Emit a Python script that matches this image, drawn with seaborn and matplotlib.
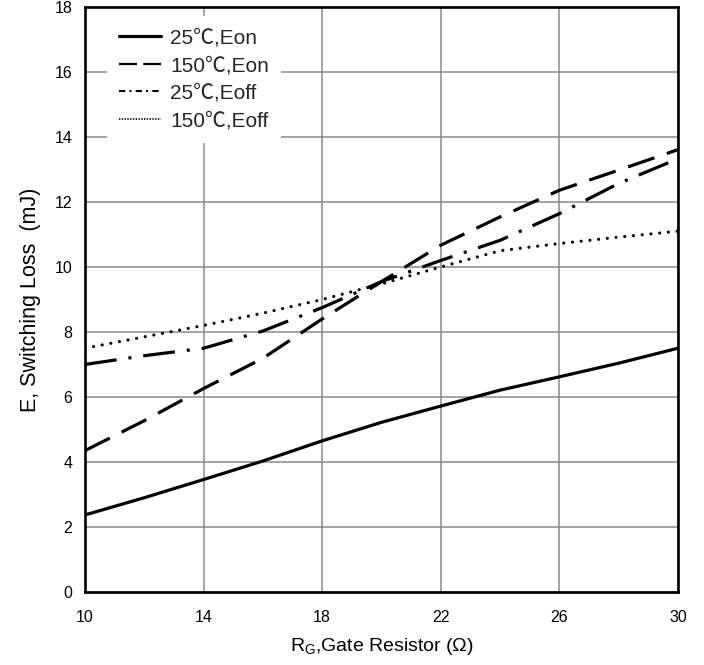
import matplotlib
matplotlib.use("Agg")
import matplotlib.pyplot as plt
from matplotlib.lines import Line2D
import seaborn as sns
import pandas as pd

# Gate resistance (ohm) and switching energies (mJ)
rg = [10, 12, 14, 16, 18, 20, 22, 24, 26, 28, 30]
eon_25 = [2.37, 2.90, 3.46, 4.03, 4.65, 5.22, 5.72, 6.21, 6.62, 7.04, 7.50]
eon_150 = [4.35, 5.27, 6.26, 7.19, 8.40, 9.55, 10.67, 11.54, 12.36, 12.98, 13.61]
eoff_25 = [7.00, 7.27, 7.50, 8.03, 8.75, 9.55, 10.20, 10.82, 11.64, 12.57, 13.33]
eoff_150 = [7.50, 7.85, 8.20, 8.58, 9.00, 9.48, 10.00, 10.50, 10.72, 10.92, 11.10]

labels = ["25\u2103,Eon", "150\u2103,Eon", "25\u2103,Eoff", "150\u2103,Eoff"]
x_ticks = [10, 14, 18, 22, 26, 30]
y_ticks = [0, 2, 4, 6, 8, 10, 12, 14, 16, 18]

sns.set_theme(style="white")
plt.rcParams["font.family"] = ["Liberation Sans", "Noto Sans CJK SC", "DejaVu Sans"]
plt.rcParams["mathtext.default"] = "regular"
plt.rcParams["lines.scale_dashes"] = False

fig = plt.figure(figsize=(7.04, 6.65), dpi=100)
ax = fig.add_axes([0.1207, 0.1098, 0.8423, 0.8797])

series = [
    (eon_25, "-", "butt"),
    (eon_150, (0, (20, 9.5)), "butt"),
    (eoff_25, (0, (23, 8.6, 2.2, 8.6)), "butt"),
    (eoff_150, (0, (0.01, 6.3)), "round"),
]
for vals, ls, cap in series:
    df = pd.DataFrame({"rg": rg, "e": vals})
    sns.lineplot(data=df, x="rg", y="e", ax=ax, color="black", lw=2.3,
                 linestyle=ls, dash_capstyle=cap, solid_capstyle="butt",
                 legend=False, zorder=3)

ax.set_xlim(10, 30)
ax.set_ylim(0, 18)
ax.set_xticks(x_ticks)
ax.set_yticks(y_ticks)
ax.tick_params(axis="both", length=0, labelsize=11.5, labelcolor="black")
ax.tick_params(axis="x", pad=13)
ax.tick_params(axis="y", pad=9)
ax.grid(True, color="#8a8a8a", lw=1.1)
ax.set_axisbelow(True)
for s in ax.spines.values():
    s.set_color("black")
    s.set_linewidth(1.9)
    s.set_zorder(6)

ax.set_xlabel("R$_{G}$,Gate Resistor (\u03a9)", fontsize=14, color="black", labelpad=8)
ax.set_ylabel("E, Switching Loss  (mJ)", fontsize=15.5, color="black", labelpad=10)

handles = [
    Line2D([], [], color="black", lw=2.3, linestyle="-"),
    Line2D([], [], color="black", lw=1.6, linestyle=(0, (13, 4.5))),
    Line2D([], [], color="black", lw=1.5, linestyle=(0, (4.5, 3.0, 1.5, 3.0))),
    Line2D([], [], color="black", lw=1.2, linestyle=(0, (1.0, 1.0))),
]
leg = ax.legend(handles, labels, loc="upper left", bbox_to_anchor=(0.037, 0.985),
                frameon=True, fancybox=False, edgecolor="none", facecolor="white",
                framealpha=1, fontsize=15, handlelength=2.0, handletextpad=0.43,
                labelspacing=0.42, borderpad=0.6, borderaxespad=0)
leg.set_zorder(5)

fig.savefig("out.png", dpi=100)
